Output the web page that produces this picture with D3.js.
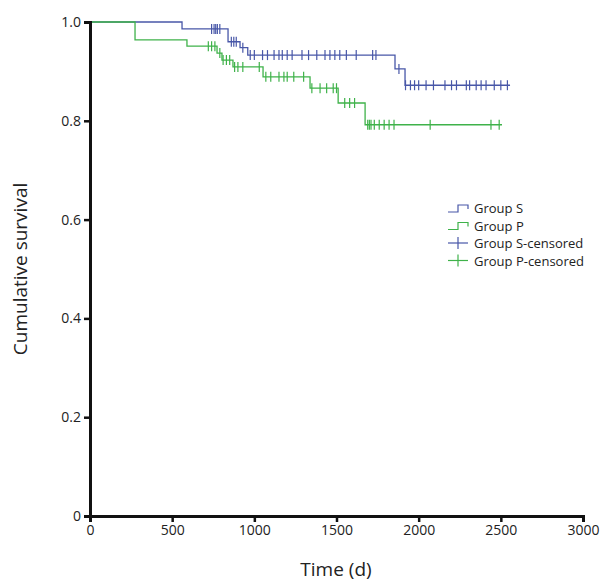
<!DOCTYPE html>
<html><head><meta charset="utf-8">
<script src="https://cdn.jsdelivr.net/npm/d3@7"></script>
<style>body{margin:0;background:#fff}</style>
</head><body>
<script>
// survival steps: [time, survival after step]
const stepsS = [[0,1],[560,0.986],[840,0.96],[913,0.948],[960,0.933],[1856,0.905],[1917,0.872],[2556,0.872]];
const stepsP = [[0,1],[274,0.964],[590,0.951],[773,0.937],[803,0.923],[870,0.909],[1053,0.889],[1339,0.866],[1510,0.836],[1674,0.792],[2507,0.792]];
const censS = [740,755,765,775,790,860,875,890,930,975,1000,1050,1080,1120,1150,1170,1200,1230,1290,1330,1380,1430,1460,1490,1520,1560,1620,1720,1740,1880,1920,1950,1975,2000,2045,2090,2160,2200,2230,2290,2310,2350,2380,2410,2460,2500,2540];
const censP = [720,740,760,790,810,830,850,880,900,930,1030,1070,1100,1150,1180,1200,1240,1300,1350,1400,1440,1480,1500,1550,1580,1610,1690,1700,1710,1730,1760,1790,1820,1850,2070,2440,2490];
const xTicks = [0,500,1000,1500,2000,2500,3000];
const yTicks = [0,0.2,0.4,0.6,0.8,1.0];
const legendLabels = ["Group S","Group P","Group S-censored","Group P-censored"];
const colS = "#4857a8", colP = "#3fb24a";

const svg = d3.select("body").append("svg").attr("width",601).attr("height",584);
const x = d3.scaleLinear().domain([0,3000]).range([90,583]);
const y = d3.scaleLinear().domain([0,1]).range([516,22]);

function survAt(steps,t){ let s=1; for(const [tt,v] of steps){ if(tt<=t) s=v; } return s; }

const line = d3.line().curve(d3.curveStepAfter).x(d=>x(d[0])).y(d=>y(d[1]));
[[stepsS,colS],[stepsP,colP]].forEach(([st,c])=>{
  svg.append("path").attr("d",line(st)).attr("fill","none").attr("stroke",c).attr("stroke-width",1.3);
});
[[censS,stepsS,colS],[censP,stepsP,colP]].forEach(([cs,st,c])=>{
  svg.selectAll(null).data(cs).enter().append("line")
    .attr("x1",d=>x(d)).attr("x2",d=>x(d))
    .attr("y1",d=>y(survAt(st,d))-5).attr("y2",d=>y(survAt(st,d))+5)
    .attr("stroke",c).attr("stroke-width",1.2);
});

const xa = svg.append("g").attr("transform","translate(0,516)")
  .call(d3.axisBottom(x).tickValues(xTicks).tickSize(6).tickFormat(d3.format("d")));
const ya = svg.append("g").attr("transform","translate(90,0)")
  .call(d3.axisLeft(y).tickValues(yTicks).tickSize(6).tickFormat(d=>d===0?"0":d3.format(".1f")(d)));
[xa,ya].forEach(a=>{
  a.select(".domain").attr("stroke","#111").attr("stroke-width",3);
  a.selectAll(".tick line").attr("stroke","#111").attr("stroke-width",2.5);
  a.selectAll("text").attr("font-family","'Open Sans', sans-serif").attr("font-size",14).attr("fill","#222");
});
svg.append("text").attr("x",336).attr("y",576).attr("text-anchor","middle")
  .attr("font-family","'Open Sans', sans-serif").attr("font-size",19).attr("fill","#222").text("Time (d)");
svg.append("text").attr("transform","translate(27,269) rotate(-90)").attr("text-anchor","middle")
  .attr("font-family","'Open Sans', sans-serif").attr("font-size",19).attr("fill","#222").text("Cumulative survival");

const lg = svg.append("g").attr("transform","translate(448,208)");
legendLabels.forEach((t,i)=>{
  const g = lg.append("g").attr("transform",`translate(0,${i*17.5})`);
  const c = i%2===0?colS:colP;
  if(i<2){
    g.append("path").attr("d","M0,4 h10 v-7 h10 v4").attr("fill","none").attr("stroke",c).attr("stroke-width",1.2);
  } else {
    g.append("line").attr("x1",0).attr("x2",20).attr("y1",0).attr("y2",0).attr("stroke",c).attr("stroke-width",1.2);
    g.append("line").attr("x1",10).attr("x2",10).attr("y1",-6).attr("y2",6).attr("stroke",c).attr("stroke-width",1.2);
  }
  g.append("text").attr("x",26).attr("y",5).attr("font-family","'Open Sans', sans-serif")
    .attr("font-size",13).attr("fill","#222").text(t);
});
</script>
</body></html>
